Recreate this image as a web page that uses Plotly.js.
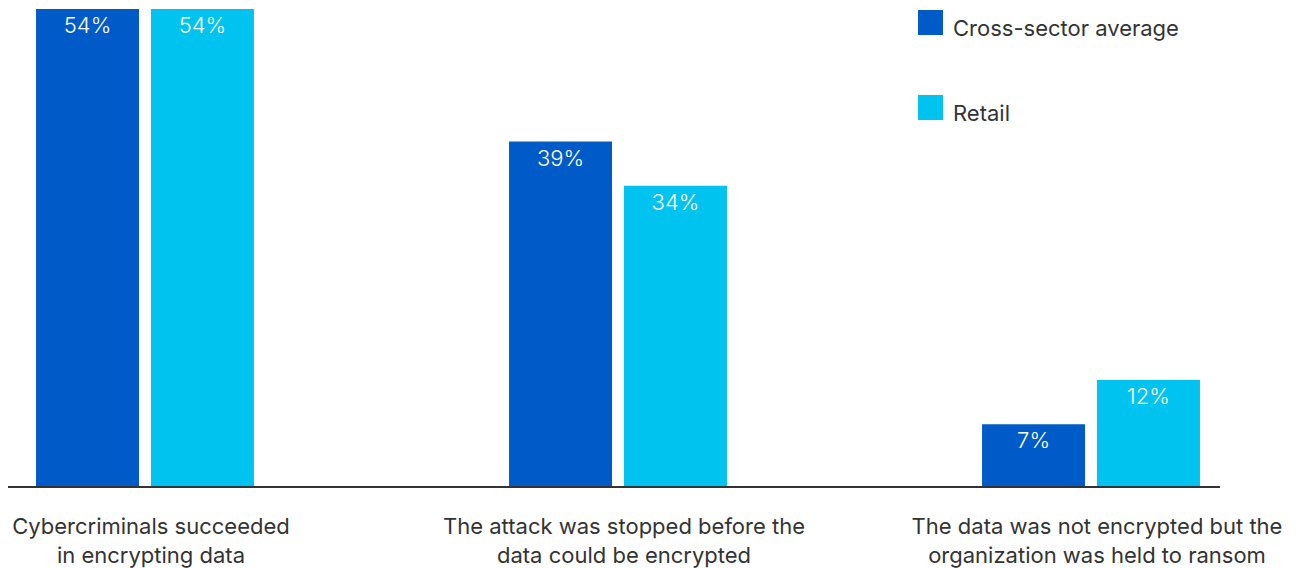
<!DOCTYPE html>
<html>
<head>
<meta charset="utf-8">
<script src="https://cdn.plot.ly/plotly-3.0.1.min.js"></script>
<style>html,body{margin:0;padding:0;background:#fff;}#chart{width:1298px;height:568px;}</style>
</head>
<body>
<div id="chart"></div>
<script>
var categories = [
  "Cybercriminals succeeded<br>in encrypting data",
  "The attack was stopped before the<br>data could be encrypted",
  "The data was not encrypted but the<br>organization was held to ransom"
];
var seriesNames = ["Cross-sector average", "Retail"];
var crossSector = [54, 39, 7];
var retail = [54, 34, 12];
var colors = ["#005BC8", "#00C3F0"];

var seriesValues = [crossSector, retail];
var traces = seriesValues.map(function (vals, i) {
  return {
    type: "bar",
    name: seriesNames[i],
    x: categories,
    y: vals,
    text: vals.map(function (v) { return v + "%"; }),
    textposition: "inside",
    insidetextanchor: "end",
    textangle: 0,
    textfont: { family: "Inter, sans-serif", size: 22, color: "#ffffff", weight: 300 },
    marker: { color: colors[i] },
    hoverinfo: "none",
    showlegend: false
  };
});

var legendShapes = [];
var legendAnnotations = [];
seriesNames.forEach(function (name, i) {
  var top = 10 + i * 85;
  legendShapes.push({
    type: "rect", xref: "paper", yref: "paper",
    x0: (918 - 8) / 1212, x1: (943 - 8) / 1212,
    y0: (486 - top - 25) / 477, y1: (486 - top) / 477,
    fillcolor: colors[i], line: { width: 0 }
  });
  legendAnnotations.push({
    xref: "paper", yref: "paper",
    x: (951 - 8) / 1212, y: (486 - top - 18) / 477,
    xanchor: "left", yanchor: "middle",
    text: name, showarrow: false,
    font: { family: "Inter, sans-serif", size: 22, color: "#333333" }
  });
});

var layout = {
  width: 1298, height: 568,
  margin: { l: 8, r: 78, t: 9, b: 82 },
  paper_bgcolor: "#ffffff", plot_bgcolor: "#ffffff",
  barmode: "group",
  bargap: 0.514,
  bargroupgap: 0.104,
  showlegend: false,
  font: { family: "Inter, sans-serif", color: "#333333" },
  xaxis: {
    type: "category",
    range: [-0.2896, 2.2727],
    showline: true, linecolor: "#333333", linewidth: 1.5,
    showgrid: false, zeroline: false, ticks: "",
    ticklabelshift: 6,
    ticklabelstandoff: 20,
    tickfont: { family: "Inter, sans-serif", size: 22, color: "#333333" },
    fixedrange: true
  },
  yaxis: {
    range: [0, 54],
    visible: false,
    showgrid: false, zeroline: false,
    fixedrange: true
  },
  shapes: legendShapes,
  annotations: legendAnnotations
};

Plotly.newPlot("chart", traces, layout, { displayModeBar: false, staticPlot: true });
</script>
</body>
</html>
